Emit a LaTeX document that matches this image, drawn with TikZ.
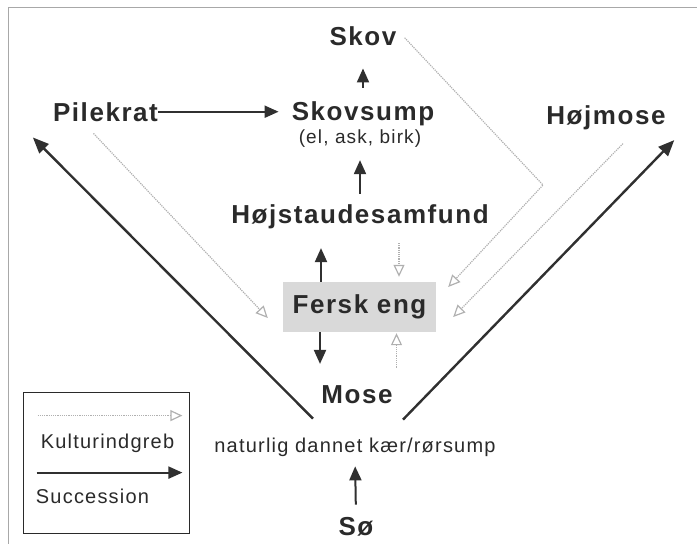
\documentclass[tikz,border=0pt]{standalone}
\usepackage{fontspec}
\setmainfont{Liberation Sans}[LetterSpace=6]
\usepackage{tikz}
\usetikzlibrary{arrows.meta}
\definecolor{ink}{HTML}{2A2A2A}
\definecolor{arrowink}{HTML}{303030}
\definecolor{dotgray}{HTML}{B0B0B0}
\definecolor{engfill}{HTML}{D9D9D9}
\definecolor{rimgray}{HTML}{A8A8A8}

\begin{document}
\begin{tikzpicture}
[every node/.style={inner sep=0pt, text=ink},
 bigtxt/.style={anchor=base, font=\fontsize{26pt}{30pt}\selectfont\bfseries},
 smalltxt/.style={anchor=base, font=\fontsize{20pt}{24pt}\selectfont},
 succ/.style={line width=2pt, color=arrowink, -{Triangle[width=12pt, length=14pt]}},
 succlong/.style={succ, line width=2.4pt, -{Triangle[width=13pt, length=16pt]}},
 kultur/.style={line width=1.2pt, color=dotgray, densely dotted, -{Triangle[open, width=11pt, length=12pt]}}]
\useasboundingbox (0pt, 0pt) rectangle (697pt, -544pt);
\draw [rimgray, line width=1pt] (8pt, -544pt) -- (8pt, -7pt) -- (697pt, -7pt);
\node (1) [bigtxt] at (363pt, -45pt) {Skov};
\node (2) [bigtxt] at (363pt, -120pt) {Skovsump};
\node (3) [smalltxt, font=\fontsize{19pt}{23pt}\selectfont] at (360pt, -143pt) {(el, ask, birk)};
\node (4) [bigtxt] at (105.5pt, -121pt) {Pilekrat};
\node (5) [bigtxt] at (606pt, -124pt) {Højmose};
\node (6) [bigtxt] at (360pt, -223pt) {Højstaudesamfund};
\node (7) [bigtxt, anchor=center, fill=engfill, minimum width=153pt, minimum height=50pt] at (359.5pt, -307pt) {Fersk eng};
\node (8) [bigtxt] at (357pt, -403pt) {Mose};
\node (9) [smalltxt] at (355pt, -452pt) {naturlig dannet kær/rørsump};
\node (10) [bigtxt] at (356pt, -535pt) {Sø};
\node (11) [draw=ink, line width=0.8pt, minimum width=166pt, minimum height=141pt] at (106pt, -462.5pt) {};
\node (12) [smalltxt] at (107.5pt, -448pt) {Kulturindgreb};
\node (13) [smalltxt] at (92.5pt, -503pt) {Succession};
\coordinate (7n) at ([xshift=-38.5pt]7.north);
\coordinate (7s) at ([xshift=-39.5pt]7.south);
\coordinate (7t) at ([xshift=39.5pt]7.north);
\coordinate (7b) at ([xshift=37pt]7.south);
\coordinate (knaek) at (543pt, -185pt);
% succession
\draw [succ, shorten >=13pt] (4.east) to (4.east -| 2.west);
\draw [succ, shorten <=13pt, shorten >=23pt] (2.north) to (1.south);
\draw [succ, shorten <=10pt, shorten >=13pt] (6.north) to (3.south);
\draw [succ, shorten >=19.5pt] (7n) to (7n |- 6.south);
\draw [succ, shorten >=21pt] (7s) to (7s |- 8.north);
\draw [succ, shorten <=12pt, shorten >=10pt] (10.north) to (9.south);
\draw [succlong] ([xshift=-42pt, yshift=18.7pt]9.north) to ([xshift=-20pt, yshift=-16pt]4.south west);
\draw [succlong] ([xshift=48pt, yshift=17.7pt]9.north) to ([xshift=8.5pt, yshift=-10.5pt]5.south east);
% kulturindgreb
\draw [kultur] ([xshift=-12pt, yshift=-12pt]4.south) to ([xshift=-15pt, yshift=-11pt]7.west);
\draw [kultur] ([xshift=8pt, yshift=-2pt]1.east) -- (knaek) -- ([xshift=12pt, yshift=20pt]7.east);
\draw [kultur] ([xshift=17pt, yshift=-14pt]5.south) to ([xshift=17pt, yshift=-10pt]7.east);
\draw [kultur, shorten <=14.5pt, shorten >=5pt] (7t |- 6.south) to (7t);
\draw [kultur, shorten <=17.4pt, shorten >=1pt] (7b |- 8.north) to (7b);
% legend
\draw [kultur] ([xshift=15pt, yshift=-24pt]11.north west) to ([xshift=-7pt, yshift=-24pt]11.north east);
\draw [succ] ([xshift=14pt, yshift=-81pt]11.north west) to ([xshift=-7pt, yshift=-81pt]11.north east);
\end{tikzpicture}
\end{document}
